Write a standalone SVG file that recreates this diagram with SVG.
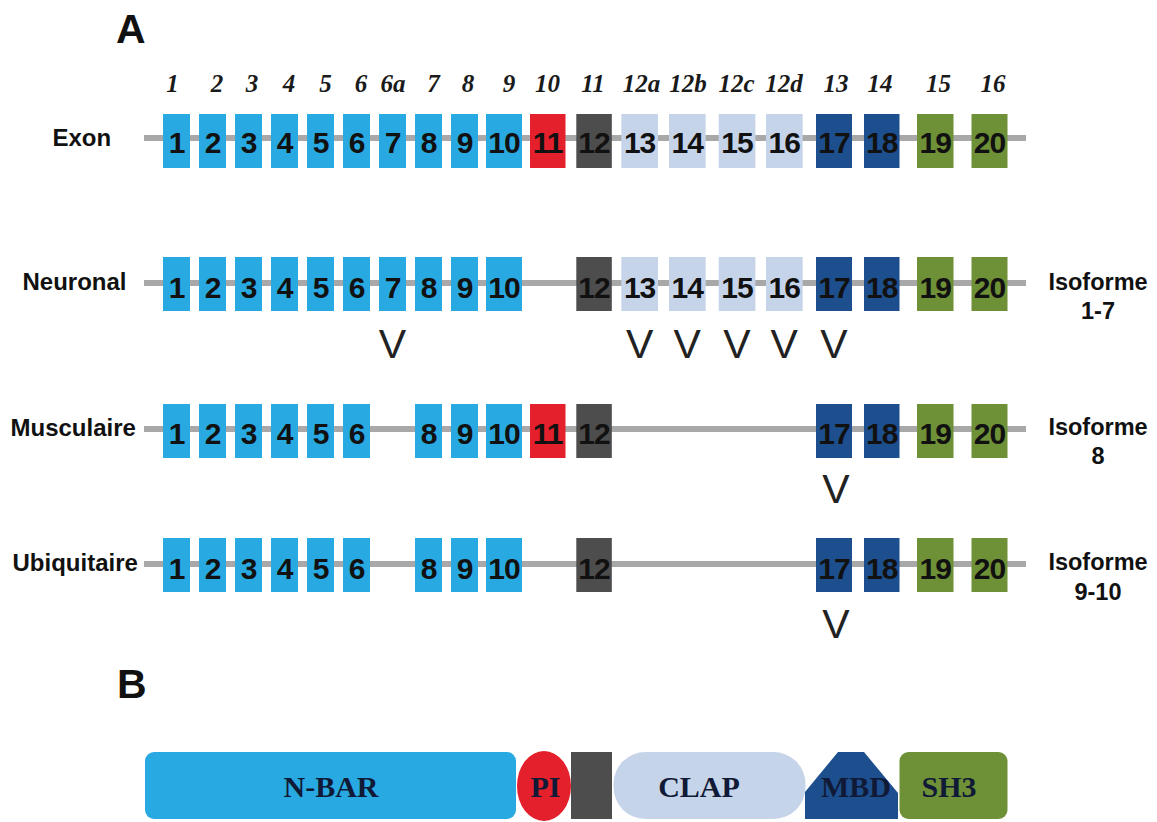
<svg xmlns="http://www.w3.org/2000/svg" width="1157" height="822" viewBox="0 0 1157 822">
<style>
.bg{fill:#ffffff}
.ln{stroke:#a8a8a8;stroke-width:6;fill:none}
.c1{fill:#29a9e1}
.c2{fill:#e3202b}
.c3{fill:#4e4d4d}
.c4{fill:#c6d4ea}
.c5{fill:#1d4f8e}
.c6{fill:#6e9036}
.num{font-family:"Liberation Sans",Arial,sans-serif;font-weight:bold;font-size:30px;fill:#111;text-anchor:middle;letter-spacing:-1px}
.top{font-family:"Liberation Serif","Times New Roman",serif;font-weight:bold;font-style:italic;font-size:25px;fill:#1a1a1a;text-anchor:middle}
.lab{font-family:"Liberation Sans",Arial,sans-serif;font-weight:bold;font-size:24px;fill:#111}
.iso{font-family:"Liberation Sans",Arial,sans-serif;font-weight:bold;font-size:23.5px;fill:#111;text-anchor:middle}
.v{font-family:"Liberation Sans",Arial,sans-serif;font-size:41px;fill:#222;text-anchor:middle}
.big{font-family:"Liberation Sans",Arial,sans-serif;font-weight:bold;font-size:41px;fill:#111}
.dom{font-family:"Liberation Serif","Times New Roman",serif;font-weight:bold;font-size:30px;fill:#101a36;text-anchor:middle}
</style>
<rect class="bg" x="0" y="0" width="1157" height="822"/>
<text class="big" x="116" y="43">A</text>
<text class="big" x="117" y="698">B</text>

<g id="exon-numbers">
<text class="top" x="172.5" y="91.5">1</text>
<text class="top" x="217" y="91.5">2</text>
<text class="top" x="252" y="91.5">3</text>
<text class="top" x="289" y="91.5">4</text>
<text class="top" x="325.5" y="91.5">5</text>
<text class="top" x="361" y="91.5">6</text>
<text class="top" x="393" y="91.5">6a</text>
<text class="top" x="433.5" y="91.5">7</text>
<text class="top" x="468" y="91.5">8</text>
<text class="top" x="509" y="91.5">9</text>
<text class="top" x="547.5" y="91.5">10</text>
<text class="top" x="593" y="91.5">11</text>
<text class="top" x="641.5" y="91.5">12a</text>
<text class="top" x="688" y="91.5">12b</text>
<text class="top" x="736.5" y="91.5">12c</text>
<text class="top" x="784" y="91.5">12d</text>
<text class="top" x="836" y="91.5">13</text>
<text class="top" x="880" y="91.5">14</text>
<text class="top" x="938.5" y="91.5">15</text>
<text class="top" x="993" y="91.5">16</text>
</g>

<g id="connectors">
<line class="ln" x1="144" y1="138" x2="1026" y2="138"/>
<line class="ln" x1="144" y1="283" x2="1026" y2="283"/>
<line class="ln" x1="144" y1="429" x2="1026" y2="429"/>
<line class="ln" x1="144" y1="564" x2="1026" y2="564"/>
</g>

<g id="row-exon">
<text class="lab" x="52.5" y="146">Exon</text>
<rect class="c1" x="163" y="114" width="27" height="54"/><text class="num" x="176.5" y="153">1</text>
<rect class="c1" x="199" y="114" width="27" height="54"/><text class="num" x="212.5" y="153">2</text>
<rect class="c1" x="235" y="114" width="27" height="54"/><text class="num" x="248.5" y="153">3</text>
<rect class="c1" x="271" y="114" width="27" height="54"/><text class="num" x="284.5" y="153">4</text>
<rect class="c1" x="307" y="114" width="27" height="54"/><text class="num" x="320.5" y="153">5</text>
<rect class="c1" x="343" y="114" width="27" height="54"/><text class="num" x="356.5" y="153">6</text>
<rect class="c1" x="379" y="114" width="27" height="54"/><text class="num" x="392.5" y="153">7</text>
<rect class="c1" x="415" y="114" width="27" height="54"/><text class="num" x="428.5" y="153">8</text>
<rect class="c1" x="451" y="114" width="27" height="54"/><text class="num" x="464.5" y="153">9</text>
<rect class="c1" x="486" y="114" width="36" height="54"/><text class="num" x="504" y="153">10</text>
<rect class="c2" x="530" y="114" width="35.5" height="54"/><text class="num" x="547.7" y="153">11</text>
<rect class="c3" x="576.3" y="114" width="35.5" height="54"/><text class="num" x="594" y="153">12</text>
<rect class="c4" x="621.3" y="114" width="36.7" height="54"/><text class="num" x="639.6" y="153">13</text>
<rect class="c4" x="669" y="114" width="36.7" height="54"/><text class="num" x="687.3" y="153">14</text>
<rect class="c4" x="718.7" y="114" width="36.7" height="54"/><text class="num" x="737" y="153">15</text>
<rect class="c4" x="766" y="114" width="36.7" height="54"/><text class="num" x="784.3" y="153">16</text>
<rect class="c5" x="816" y="114" width="36" height="54"/><text class="num" x="834" y="153">17</text>
<rect class="c5" x="864" y="114" width="35.5" height="54"/><text class="num" x="881.7" y="153">18</text>
<rect class="c6" x="917" y="114" width="36.5" height="54"/><text class="num" x="935.2" y="153">19</text>
<rect class="c6" x="971.5" y="114" width="36" height="54"/><text class="num" x="989.5" y="153">20</text>
</g>

<g id="row-neuronal">
<text class="lab" x="22.5" y="290">Neuronal</text>
<rect class="c1" x="163" y="257" width="27" height="54"/><text class="num" x="176.5" y="298">1</text>
<rect class="c1" x="199" y="257" width="27" height="54"/><text class="num" x="212.5" y="298">2</text>
<rect class="c1" x="235" y="257" width="27" height="54"/><text class="num" x="248.5" y="298">3</text>
<rect class="c1" x="271" y="257" width="27" height="54"/><text class="num" x="284.5" y="298">4</text>
<rect class="c1" x="307" y="257" width="27" height="54"/><text class="num" x="320.5" y="298">5</text>
<rect class="c1" x="343" y="257" width="27" height="54"/><text class="num" x="356.5" y="298">6</text>
<rect class="c1" x="379" y="257" width="27" height="54"/><text class="num" x="392.5" y="298">7</text>
<rect class="c1" x="415" y="257" width="27" height="54"/><text class="num" x="428.5" y="298">8</text>
<rect class="c1" x="451" y="257" width="27" height="54"/><text class="num" x="464.5" y="298">9</text>
<rect class="c1" x="486" y="257" width="36" height="54"/><text class="num" x="504" y="298">10</text>
<rect class="c3" x="576.3" y="257" width="35.5" height="54"/><text class="num" x="594" y="298">12</text>
<rect class="c4" x="621.3" y="257" width="36.7" height="54"/><text class="num" x="639.6" y="298">13</text>
<rect class="c4" x="669" y="257" width="36.7" height="54"/><text class="num" x="687.3" y="298">14</text>
<rect class="c4" x="718.7" y="257" width="36.7" height="54"/><text class="num" x="737" y="298">15</text>
<rect class="c4" x="766" y="257" width="36.7" height="54"/><text class="num" x="784.3" y="298">16</text>
<rect class="c5" x="816" y="257" width="36" height="54"/><text class="num" x="834" y="298">17</text>
<rect class="c5" x="864" y="257" width="35.5" height="54"/><text class="num" x="881.7" y="298">18</text>
<rect class="c6" x="917" y="257" width="36.5" height="54"/><text class="num" x="935.2" y="298">19</text>
<rect class="c6" x="971.5" y="257" width="36" height="54"/><text class="num" x="989.5" y="298">20</text>
<text class="iso" x="1098" y="290">Isoforme</text>
<text class="iso" x="1098" y="319">1-7</text>
<text class="v" x="392.5" y="358">V</text>
<text class="v" x="639.6" y="358">V</text>
<text class="v" x="687.3" y="358">V</text>
<text class="v" x="737" y="358">V</text>
<text class="v" x="784.3" y="358">V</text>
<text class="v" x="834" y="358">V</text>
</g>

<g id="row-musculaire">
<text class="lab" x="10.5" y="436">Musculaire</text>
<rect class="c1" x="163" y="404" width="27" height="54"/><text class="num" x="176.5" y="444">1</text>
<rect class="c1" x="199" y="404" width="27" height="54"/><text class="num" x="212.5" y="444">2</text>
<rect class="c1" x="235" y="404" width="27" height="54"/><text class="num" x="248.5" y="444">3</text>
<rect class="c1" x="271" y="404" width="27" height="54"/><text class="num" x="284.5" y="444">4</text>
<rect class="c1" x="307" y="404" width="27" height="54"/><text class="num" x="320.5" y="444">5</text>
<rect class="c1" x="343" y="404" width="27" height="54"/><text class="num" x="356.5" y="444">6</text>
<rect class="c1" x="415" y="404" width="27" height="54"/><text class="num" x="428.5" y="444">8</text>
<rect class="c1" x="451" y="404" width="27" height="54"/><text class="num" x="464.5" y="444">9</text>
<rect class="c1" x="486" y="404" width="36" height="54"/><text class="num" x="504" y="444">10</text>
<rect class="c2" x="530" y="404" width="35.5" height="54"/><text class="num" x="547.7" y="444">11</text>
<rect class="c3" x="576.3" y="404" width="35.5" height="54"/><text class="num" x="594" y="444">12</text>
<rect class="c5" x="816" y="404" width="36" height="54"/><text class="num" x="834" y="444">17</text>
<rect class="c5" x="864" y="404" width="35.5" height="54"/><text class="num" x="881.7" y="444">18</text>
<rect class="c6" x="917" y="404" width="36.5" height="54"/><text class="num" x="935.2" y="444">19</text>
<rect class="c6" x="971.5" y="404" width="36" height="54"/><text class="num" x="989.5" y="444">20</text>
<text class="iso" x="1098" y="435">Isoforme</text>
<text class="iso" x="1098" y="464">8</text>
<text class="v" x="836" y="503">V</text>
</g>

<g id="row-ubiquitaire">
<text class="lab" x="12.5" y="571">Ubiquitaire</text>
<rect class="c1" x="163" y="538" width="27" height="54"/><text class="num" x="176.5" y="579">1</text>
<rect class="c1" x="199" y="538" width="27" height="54"/><text class="num" x="212.5" y="579">2</text>
<rect class="c1" x="235" y="538" width="27" height="54"/><text class="num" x="248.5" y="579">3</text>
<rect class="c1" x="271" y="538" width="27" height="54"/><text class="num" x="284.5" y="579">4</text>
<rect class="c1" x="307" y="538" width="27" height="54"/><text class="num" x="320.5" y="579">5</text>
<rect class="c1" x="343" y="538" width="27" height="54"/><text class="num" x="356.5" y="579">6</text>
<rect class="c1" x="415" y="538" width="27" height="54"/><text class="num" x="428.5" y="579">8</text>
<rect class="c1" x="451" y="538" width="27" height="54"/><text class="num" x="464.5" y="579">9</text>
<rect class="c1" x="486" y="538" width="36" height="54"/><text class="num" x="504" y="579">10</text>
<rect class="c3" x="576.3" y="538" width="35.5" height="54"/><text class="num" x="594" y="579">12</text>
<rect class="c5" x="816" y="538" width="36" height="54"/><text class="num" x="834" y="579">17</text>
<rect class="c5" x="864" y="538" width="35.5" height="54"/><text class="num" x="881.7" y="579">18</text>
<rect class="c6" x="917" y="538" width="36.5" height="54"/><text class="num" x="935.2" y="579">19</text>
<rect class="c6" x="971.5" y="538" width="36" height="54"/><text class="num" x="989.5" y="579">20</text>
<text class="iso" x="1098" y="570">Isoforme</text>
<text class="iso" x="1098" y="600">9-10</text>
<text class="v" x="836" y="638">V</text>
</g>

<g id="domains">
<g id="d-nbar"><rect class="c1" x="145" y="752" width="371" height="67" rx="9"/><text class="dom" x="331" y="797">N-BAR</text></g>
<g id="d-pi"><ellipse class="c2" cx="544" cy="786" rx="27" ry="35"/><text class="dom" x="545.5" y="797">PI</text></g>
<g id="d-grey"><rect class="c3" x="571" y="752" width="41" height="67"/></g>
<g id="d-clap"><rect class="c4" x="613.5" y="752" width="192" height="67" rx="32"/><text class="dom" x="699" y="797">CLAP</text></g>
<g id="d-mbd"><polygon class="c5" points="838,752 864,752 898,793 898,819 805,819 805,792"/><text class="dom" x="856" y="797">MBD</text></g>
<g id="d-sh3"><rect class="c6" x="899.5" y="752" width="108" height="67" rx="9"/><text class="dom" x="949" y="797">SH3</text></g>
</g>
</svg>
